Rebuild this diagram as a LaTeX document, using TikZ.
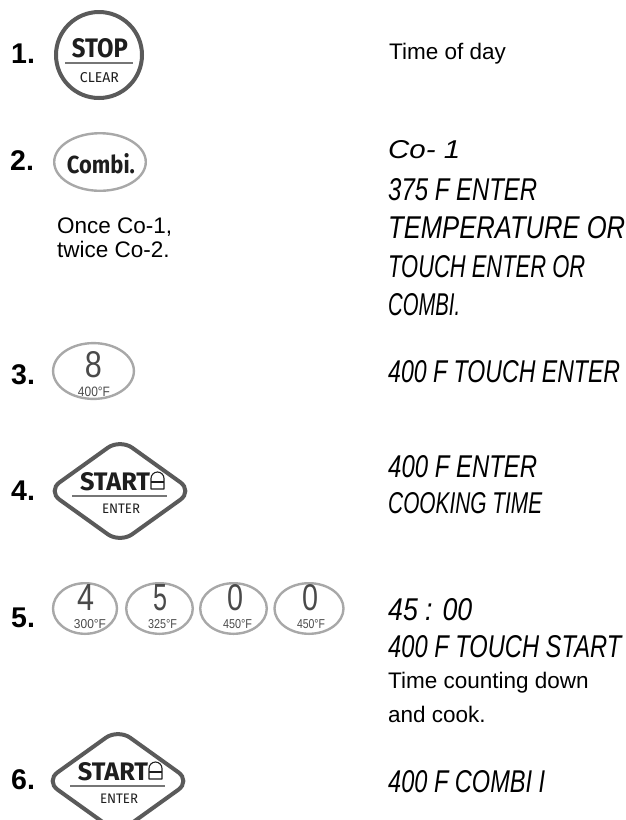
\documentclass[tikz,border=0pt]{standalone}
\usepackage{fontspec}
\usepackage{graphicx}
\setmainfont{Liberation Sans}
\newfontfamily\keyfont{Fira Sans}
\definecolor{ringdark}{HTML}{5A5A5A}
\definecolor{ringlight}{HTML}{A8A8A8}
\definecolor{barcol}{HTML}{767676}
\definecolor{keytext}{HTML}{1E1E1E}
\definecolor{digitcol}{HTML}{4A4A4A}
\newcommand\fitto[3]{\resizebox{#1pt}{#2pt}{#3}}
\tikzset{
  numlbl/.style={anchor=base west, inner sep=0pt, font=\fontsize{28.5}{30}\selectfont\bfseries},
  bodytxt/.style={anchor=base west, inner sep=0pt, font=\fontsize{22.5}{24}\selectfont},
  lcdtxt/.style={anchor=base west, inner sep=0pt, font=\itshape},
  keylbl/.style={anchor=base, inner sep=0pt, text=keytext},
  digitlbl/.style={anchor=base, inner sep=0pt, text=digitcol},
  darkring/.style={draw=ringdark, line width=4pt},
  lightring/.style={draw=ringlight, line width=2.4pt},
  keybar/.style={draw=barcol, line width=2.6pt},
  lockline/.style={draw=keytext, line width=1.1pt, line join=round},
  startkey/.pic={
    \draw[darkring, rounded corners=15pt] (-72.5,0) -- (0,-52) -- (72.5,0) -- (0,52) -- cycle;
    \node[keylbl] (-start) at (-5,-1) {\fitto{70}{18}{\keyfont\bfseries START}};
    \draw[lockline] (31,-2) -- (31,-12.5) arc[start angle=180, end angle=360, radius=6.5] -- (44,-2) -- cycle;
    \draw[lockline] (31,-9) -- (44,-9);
    \coordinate (-barL) at (-48,5);
    \coordinate (-barR) at (47,5);
    \draw[keybar] (-barL) -- (-barR);
    \node[keylbl] (-enter) at (1,22) {\fitto{38}{9.5}{\keyfont ENTER}};
  }
}
\begin{document}
\begin{tikzpicture}[x=1pt,y=-1pt]
\useasboundingbox (0,0) rectangle (626,820);
\clip (0,0) rectangle (626,820);

% ---------- step 1
\node[numlbl] (n1) at (11,63) {1.};
\draw[darkring] (99,55) circle [radius=43];
\node[keylbl] (stoptxt) at (100,57) {\fitto{56}{19}{\keyfont\bfseries STOP}};
\coordinate (stopbarL) at (65,63);
\coordinate (stopbarR) at (133,63);
\draw[keybar] (stopbarL) -- (stopbarR);
\node[keylbl] (cleartxt) at (99.5,82) {\fitto{39}{10}{\keyfont CLEAR}};
\node[bodytxt] (tod) at (389,59) {Time of day};

% ---------- step 2
\node[numlbl] (n2) at (10,170) {2.};
\draw[lightring] (100,162) ellipse [x radius=45.8, y radius=28.8];
\node[keylbl] (combi) at (101,173) {\fitto{68}{20}{\keyfont\bfseries Combi.}};
\node[bodytxt] (once) at (57,233) {Once Co-1,};
\node[bodytxt] (twice) at (57,257) {twice Co-2.};
\node[lcdtxt] (d1) at (388,158) {\fitto{72}{18}{Co- 1}};
\node[lcdtxt] (d2) at (388,200) {\fitto{149}{22}{375 F ENTER}};
\node[lcdtxt] (d3) at (388,238) {\fitto{237}{22}{TEMPERATURE OR}};
\node[lcdtxt] (d4) at (388,277) {\fitto{197}{22}{TOUCH ENTER OR}};
\node[lcdtxt] (d5) at (388,315) {\fitto{72}{22}{COMBI.}};

% ---------- step 3
\node[numlbl] (n3) at (11,384) {3.};
\draw[lightring] (93.5,371) ellipse [x radius=40.4, y radius=27.9];
\node[digitlbl] (k8) at (93.5,377.5) {\fitto{17}{26}{8}};
\node[digitlbl] (k8t) at (94,396) {\fitto{32}{9.5}{400°F}};
\node[lcdtxt] (d6) at (388,382) {\fitto{232}{22}{400 F TOUCH ENTER}};

% ---------- step 4
\node[numlbl] (n4) at (11,500) {4.};
\pic (s4) at (120,491) {startkey};
\node[lcdtxt] (d7) at (388,477) {\fitto{149}{22}{400 F ENTER}};
\node[lcdtxt] (d8) at (388,513) {\fitto{154}{21}{COOKING TIME}};

% ---------- step 5
\node[numlbl] (n5) at (11,627) {5.};
\draw[lightring] (85,608.5) ellipse [x radius=32, y radius=25.3];
\draw[lightring] (159.5,608.5) ellipse [x radius=33.3, y radius=25.3];
\draw[lightring] (233.5,608.5) ellipse [x radius=33.3, y radius=25.3];
\draw[lightring] (309,608.5) ellipse [x radius=34.5, y radius=25.3];
\node[digitlbl] (k4) at (86.5,610) {\fitto{17}{26}{4}};
\node[digitlbl] (k4t) at (90,628) {\fitto{32}{9}{300°F}};
\node[digitlbl] (k5) at (160,610) {\fitto{14}{26}{5}};
\node[digitlbl] (k5t) at (162.5,628) {\fitto{29}{9}{325°F}};
\node[digitlbl] (k0a) at (235,610) {\fitto{16}{26}{0}};
\node[digitlbl] (k0at) at (237.5,628) {\fitto{29}{9}{450°F}};
\node[digitlbl] (k0b) at (310,610) {\fitto{16}{26}{0}};
\node[digitlbl] (k0bt) at (311,628) {\fitto{28}{9}{450°F}};
\node[lcdtxt] (d9) at (388,620) {\fitto{84}{22}{45 : 00}};
\node[lcdtxt] (d10) at (388,657) {\fitto{233}{22}{400 F TOUCH START}};
\node[bodytxt] (tcd) at (388,688) {Time counting down};
\node[bodytxt] (cook) at (388,722) {and cook.};

% ---------- step 6
\node[numlbl] (n6) at (11,789) {6.};
\pic (s6) at (118,781) {startkey};
\node[lcdtxt] (d11) at (388,792) {\fitto{157}{22}{400 F COMBI I}};
\end{tikzpicture}
\end{document}
